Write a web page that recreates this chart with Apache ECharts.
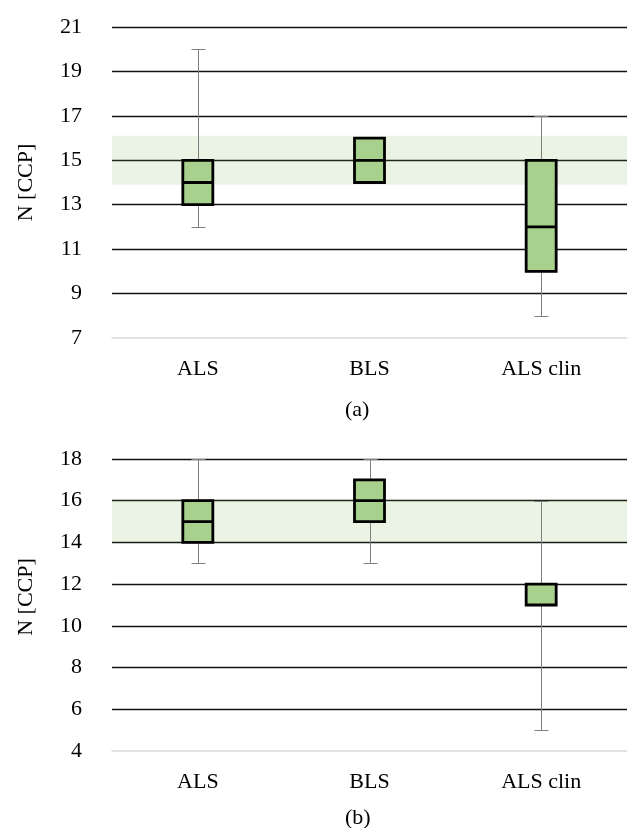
<!DOCTYPE html>
<html>
<head>
<meta charset="utf-8">
<script src="https://cdn.jsdelivr.net/npm/echarts@6/dist/echarts.min.js"></script>
<style>
html,body{margin:0;padding:0;background:#fff;}
#chart{width:627px;height:828px;}
</style>
</head>
<body>
<div id="chart"></div>
<script>
// Categories
const categories = ['ALS', 'BLS', 'ALS clin'];

// Panel (a) box statistics
const aMin = [12, 14, 8];
const aQ1 = [13, 14, 10];
const aMedian = [14, 15, 12];
const aQ3 = [15, 16, 15];
const aMax = [20, 16, 17];
const aBand = [13.9, 16.1];
const aAxis = { min: 7, max: 21, interval: 2 };

// Panel (b) box statistics
const bMin = [13, 13, 5];
const bQ1 = [14, 15, 11];
const bMedian = [15, 16, 12];
const bQ3 = [16, 17, 12];
const bMax = [18, 18, 16];
const bBand = [14, 16.05];
const bAxis = { min: 4, max: 18, interval: 2 };

const yTitle = 'N [CCP]';
const captions = ['(a)', '(b)'];

const FONT = '"Liberation Serif", "Times New Roman", serif';

function whiskerData(mn, mx) {
  return mn.map((v, i) => [i, v, mx[i]]);
}
function boxData(q1, md, q3) {
  return q1.map((v, i) => [v, v, md[i], q3[i], q3[i]]);
}

const chart = echarts.init(document.getElementById('chart'), null, { renderer: 'canvas' });

function xAxisCfg(gi) {
  return {
    type: 'category', gridIndex: gi, data: categories, boundaryGap: true,
    axisTick: { show: false },
    axisLine: { show: true, lineStyle: { color: '#d9d9d9', width: 1.5 } },
    axisLabel: { margin: 20, fontSize: 22, color: '#000', fontFamily: FONT },
    z: 3
  };
}
function yAxisCfg(gi, ax, pad) {
  return {
    type: 'value', gridIndex: gi, min: ax.min, max: ax.max, interval: ax.interval,
    axisLine: { show: false }, axisTick: { show: false },
    splitLine: { show: true, showMinLine: false, lineStyle: { color: '#111', width: 1.3 } },
    axisLabel: { margin: 30, fontSize: 22, color: '#000', fontFamily: FONT },
    name: yTitle, nameLocation: 'middle', nameGap: 75, nameRotate: 90,
    nameTextStyle: { fontSize: 22, color: '#000', fontFamily: FONT, padding: pad },
    z: 1
  };
}
function bandSeries(gi, band) {
  return {
    type: 'line', xAxisIndex: gi, yAxisIndex: gi, data: [], silent: true, z: 0,
    markArea: {
      silent: true,
      itemStyle: { color: 'rgba(112,173,71,0.15)' },
      data: [[{ yAxis: band[0] }, { yAxis: band[1] }]]
    }
  };
}
function whiskerSeries(gi, mn, mx) {
  return {
    type: 'custom', xAxisIndex: gi, yAxisIndex: gi, z: 3, silent: true,
    data: whiskerData(mn, mx),
    encode: { x: 0, y: [1, 2] },
    renderItem: function (params, api) {
      const c = api.value(0);
      const lo = api.coord([c, api.value(1)]);
      const hi = api.coord([c, api.value(2)]);
      const x = Math.round(lo[0]) + 0.5;
      const yl = Math.round(lo[1]) + 0.5;
      const yh = Math.round(hi[1]) + 0.5;
      const hw = 7;
      const st = { stroke: '#7f7f7f', lineWidth: 1 };
      return {
        type: 'group',
        children: [
          { type: 'line', shape: { x1: x, y1: yl, x2: x, y2: yh }, style: st },
          { type: 'line', shape: { x1: x - hw, y1: yl, x2: x + hw, y2: yl }, style: st },
          { type: 'line', shape: { x1: x - hw, y1: yh, x2: x + hw, y2: yh }, style: st }
        ]
      };
    }
  };
}
function boxSeries(gi, q1, md, q3) {
  return {
    type: 'boxplot', xAxisIndex: gi, yAxisIndex: gi, z: 4,
    boxWidth: [30, 30],
    itemStyle: { color: '#a9d18e', borderColor: '#000', borderWidth: 2.8 },
    data: boxData(q1, md, q3), silent: true
  };
}

chart.setOption({
  animation: false,
  backgroundColor: '#fff',
  textStyle: { fontFamily: FONT },
  title: [
    { text: captions[0], left: 345, top: 399, padding: 0, textStyle: { fontSize: 22, fontWeight: 'normal', color: '#000', fontFamily: FONT } },
    { text: captions[1], left: 345, top: 807, padding: 0, textStyle: { fontSize: 22, fontWeight: 'normal', color: '#000', fontFamily: FONT } }
  ],
  grid: [
    { left: 112, right: -7, top: 27, height: 311 },
    { left: 112, right: -7, top: 459, height: 292 }
  ],
  xAxis: [xAxisCfg(0), xAxisCfg(1)],
  yAxis: [yAxisCfg(0, aAxis, 0), yAxisCfg(1, bAxis, [0, 0, 0, 16])],
  series: [
    bandSeries(0, aBand),
    bandSeries(1, bBand),
    whiskerSeries(0, aMin, aMax),
    boxSeries(0, aQ1, aMedian, aQ3),
    whiskerSeries(1, bMin, bMax),
    boxSeries(1, bQ1, bMedian, bQ3)
  ]
});
</script>
</body>
</html>
